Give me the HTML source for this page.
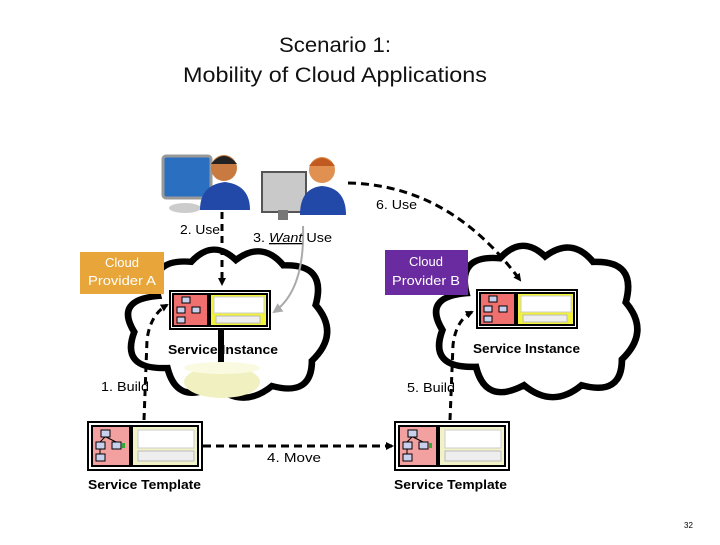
<!DOCTYPE html>
<html><head><meta charset="utf-8"><style>
body{margin:0;background:#fff;width:720px;height:540px;overflow:hidden;font-family:"Liberation Sans",sans-serif}
</style></head><body>
<svg width="720" height="540" viewBox="0 0 720 540" xmlns="http://www.w3.org/2000/svg">
<defs>
<marker id="ah" markerWidth="8" markerHeight="8" refX="6" refY="4" orient="auto" markerUnits="userSpaceOnUse"><path d="M0,0 L8,4 L0,8 Z" fill="#000"/></marker>
<marker id="ahg" markerWidth="10" markerHeight="10" refX="8" refY="5" orient="auto" markerUnits="userSpaceOnUse"><path d="M0,0 L10,5 L0,10 Z" fill="#aaa"/></marker>
<g id="cloud"><path d="M40,60 Q30,18 75,22 Q98,-4 122,20 Q150,-2 172,26 Q218,24 206,70 Q232,102 202,132 Q202,172 160,160 Q130,186 100,160 Q60,182 50,140 Q0,142 15,100 Q-6,64 40,60 Z" fill="#fff" stroke="#000" stroke-width="7"/></g>
<g id="tmpl">
<rect x="0" y="0" width="114" height="48" fill="#fff" stroke="#000" stroke-width="2"/>
<rect x="4" y="4" width="38" height="40" fill="#f3a0a0" stroke="#000" stroke-width="2"/>
<rect x="44" y="4" width="66" height="40" fill="#f2f2c8" stroke="#000" stroke-width="2"/>
<rect x="50" y="8" width="56" height="18" fill="#fff" stroke="#ccc"/>
<rect x="50" y="29" width="56" height="10" fill="#eee" stroke="#bbb"/>
<rect x="13" y="8" width="9" height="7" fill="#c8d0ee" stroke="#000"/>
<rect x="8" y="20" width="9" height="7" fill="#c8d0ee" stroke="#000"/>
<rect x="24" y="20" width="9" height="7" fill="#c8d0ee" stroke="#000"/>
<rect x="8" y="32" width="9" height="7" fill="#c8d0ee" stroke="#000"/>
<path d="M17,15 L12,20 M18,15 L28,20 M12,27 L12,32" stroke="#000"/>
<rect x="34" y="21" width="3" height="5" fill="#3a3"/>
</g>
<g id="inst">
<rect x="0" y="0" width="100" height="38" fill="#fff" stroke="#000" stroke-width="2"/>
<rect x="3" y="3" width="35" height="32" fill="#f07070" stroke="#000" stroke-width="2"/>
<rect x="40" y="3" width="57" height="32" fill="#f2f23a" stroke="#000" stroke-width="2"/>
<rect x="44" y="6" width="50" height="16" fill="#fff" stroke="#ccc"/>
<rect x="46" y="25" width="44" height="7" fill="#eee" stroke="#bbb"/>
<rect x="12" y="6" width="8" height="6" fill="#c8d0ee" stroke="#000"/>
<rect x="7" y="16" width="8" height="6" fill="#c8d0ee" stroke="#000"/>
<rect x="22" y="16" width="8" height="6" fill="#c8d0ee" stroke="#000"/>
<rect x="7" y="26" width="8" height="6" fill="#c8d0ee" stroke="#000"/>
</g>
</defs>

<text x="279" y="52" font-size="21" textLength="112" lengthAdjust="spacingAndGlyphs" fill="#111">Scenario 1:</text>
<text x="183" y="82" font-size="21" textLength="304" lengthAdjust="spacingAndGlyphs" fill="#111">Mobility of Cloud Applications</text>

<use href="#cloud" transform="translate(120,242) scale(0.95,0.9)"/>
<use href="#cloud" transform="translate(428,238) scale(0.96,0.92)"/>

<path d="M348,183 Q450,185 520,280" fill="none" stroke="#000" stroke-width="3" stroke-dasharray="8,5" marker-end="url(#ah)"/>
<text x="376" y="209" font-size="13" textLength="41" lengthAdjust="spacingAndGlyphs">6. Use</text>

<g>
<rect x="163" y="156" width="48" height="42" rx="3" fill="#2a6fc0" stroke="#999" stroke-width="3"/>
<ellipse cx="185" cy="208" rx="16" ry="5" fill="#ccc"/>
<path d="M200,210 Q200,185 225,182 Q250,185 250,210 Z" fill="#2248a8"/>
<circle cx="224" cy="168" r="13" fill="#c87a40"/>
<path d="M211,164 Q224,148 237,164 Z" fill="#222"/>
</g>
<g>
<rect x="262" y="172" width="44" height="40" fill="#c9c9c9" stroke="#555" stroke-width="2"/>
<rect x="278" y="210" width="10" height="10" fill="#777"/>
<path d="M300,215 Q300,188 322,186 Q346,188 346,215 Z" fill="#2248a8"/>
<circle cx="322" cy="170" r="13" fill="#e09050"/>
<path d="M309,166 Q322,150 335,166 Z" fill="#c05a20"/>
</g>

<rect x="80" y="252" width="84" height="42" fill="#e8a53a"/>
<text x="122" y="267" font-size="13" fill="#fff" text-anchor="middle">Cloud</text>
<text x="88" y="285" font-size="13" fill="#fff" textLength="68" lengthAdjust="spacingAndGlyphs">Provider A</text>
<rect x="385" y="250" width="83" height="45" fill="#6a2aa0"/>
<text x="426" y="266" font-size="13" fill="#fff" text-anchor="middle">Cloud</text>
<text x="392" y="285" font-size="13" fill="#fff" textLength="68" lengthAdjust="spacingAndGlyphs">Provider B</text>

<path d="M222,212 L222,284" stroke="#000" stroke-width="3" stroke-dasharray="7,5" marker-end="url(#ah)"/>
<text x="180" y="234" font-size="13" textLength="40" lengthAdjust="spacingAndGlyphs">2. Use</text>
<path d="M303,226 Q305,290 274,312" fill="none" stroke="#aaa" stroke-width="2" marker-end="url(#ahg)"/>
<text x="253" y="242" font-size="13" textLength="79" lengthAdjust="spacingAndGlyphs">3. <tspan font-style="italic" text-decoration="underline">Want</tspan> Use</text>

<use href="#inst" x="170" y="291"/>
<use href="#inst" x="477" y="290"/>
<rect x="218" y="330" width="6" height="40" fill="#000"/>
<text x="168" y="354" font-size="13" font-weight="bold" textLength="110" lengthAdjust="spacingAndGlyphs">Service Instance</text>
<text x="473" y="353" font-size="13" font-weight="bold" textLength="107" lengthAdjust="spacingAndGlyphs">Service Instance</text>
<ellipse cx="222" cy="382" rx="38" ry="16" fill="#f0f0c0"/>
<ellipse cx="222" cy="368" rx="38" ry="6" fill="#fafae0"/>

<path d="M144,420 L147,340 Q150,315 167,305" fill="none" stroke="#000" stroke-width="3" stroke-dasharray="7,5" marker-end="url(#ah)"/>
<text x="101" y="391" font-size="13" textLength="48" lengthAdjust="spacingAndGlyphs">1. Build</text>
<path d="M450,420 L453,345 Q456,320 472,312" fill="none" stroke="#000" stroke-width="3" stroke-dasharray="7,5" marker-end="url(#ah)"/>
<text x="407" y="392" font-size="13" textLength="48" lengthAdjust="spacingAndGlyphs">5. Build</text>

<use href="#tmpl" x="88" y="422"/>
<use href="#tmpl" x="395" y="422"/>
<path d="M203,446 L392,446" stroke="#000" stroke-width="3" stroke-dasharray="8,5" marker-end="url(#ah)"/>
<text x="267" y="462" font-size="13" textLength="54" lengthAdjust="spacingAndGlyphs">4. Move</text>
<text x="88" y="489" font-size="13" font-weight="bold" textLength="113" lengthAdjust="spacingAndGlyphs">Service Template</text>
<text x="394" y="489" font-size="13" font-weight="bold" textLength="113" lengthAdjust="spacingAndGlyphs">Service Template</text>
<text x="684" y="528" font-size="8">32</text>
</svg>
</body></html>
